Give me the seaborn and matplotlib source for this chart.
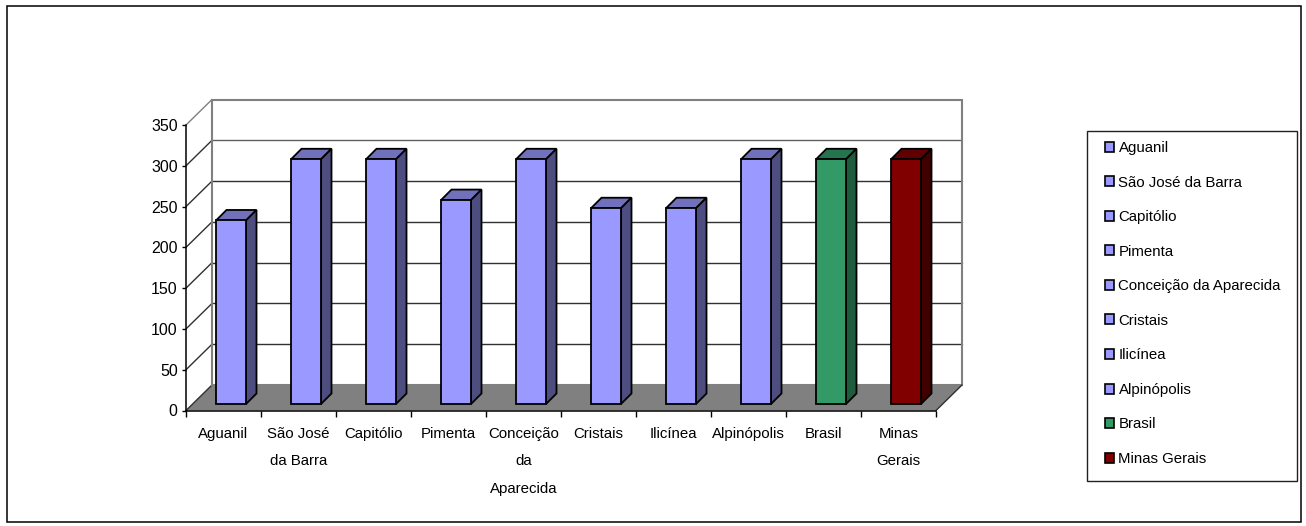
#!/usr/bin/env python3
"""Pseudo-3D column chart of municipalities, Brasil and Minas Gerais."""

import matplotlib
matplotlib.use("Agg")
import matplotlib.pyplot as plt
import pandas as pd
import seaborn as sns
from matplotlib.patches import Patch, Polygon, Rectangle

# Data
CATEGORIES = ["Aguanil", "São José da Barra", "Capitólio", "Pimenta",
              "Conceição da Aparecida", "Cristais", "Ilicínea", "Alpinópolis",
              "Brasil", "Minas Gerais"]
TICK_LABELS = ["Aguanil", "São José\nda Barra", "Capitólio", "Pimenta",
               "Conceição\nda\nAparecida", "Cristais", "Ilicínea", "Alpinópolis",
               "Brasil", "Minas\nGerais"]
VALUES = [225, 300, 300, 250, 300, 240, 240, 300, 300, 300]
Y_TICKS = [0, 50, 100, 150, 200, 250, 300, 350]

FRONT = ["#9999FF"] * 8 + ["#339966", "#800000"]
TOP = ["#7070BB"] * 8 + ["#267350", "#600000"]
SIDE = ["#4D4D80"] * 8 + ["#1F5C3D", "#400000"]

# Figure geometry, in pixels
W, H = 1306, 526
AX_LEFT, AX_RIGHT, AX_TOP, AX_BOTTOM = 186, 936, 125, 410.5
PX_X = (AX_RIGHT - AX_LEFT) / 10
PX_Y = (AX_BOTTOM - AX_TOP) / 350
FONT_SIZE = 10.8


def main():
    sns.set_theme(style="white")
    plt.rcParams["font.family"] = ["Liberation Sans", "DejaVu Sans"]

    fig = plt.figure(figsize=(W / 100, H / 100), dpi=100, facecolor="white")
    ax = fig.add_axes([AX_LEFT / W, 1 - AX_BOTTOM / H,
                       (AX_RIGHT - AX_LEFT) / W, (AX_BOTTOM - AX_TOP) / H])
    ax.patch.set_alpha(0)

    df = pd.DataFrame({"local": CATEGORIES, "valor": VALUES})
    sns.barplot(data=df, x="local", y="valor", hue="local", palette=FRONT,
                hue_order=CATEGORIES, dodge=False, width=0.4, saturation=1,
                edgecolor="black", linewidth=1.3, ax=ax, zorder=4)
    bars = list(ax.patches)
    ax.set_xlim(-0.5, 9.5)
    ax.set_ylim(0, 350)

    # Back wall, side wall and floor
    wall_dx, wall_dy = 26 / PX_X, 25.5 / PX_Y
    x0, x1 = -0.5, 9.5
    ax.add_patch(Polygon([(x0, 0), (x1, 0), (x1 + wall_dx, wall_dy), (x0 + wall_dx, wall_dy)],
                         closed=True, facecolor="#808080", edgecolor="none",
                         clip_on=False, zorder=1))
    for val in Y_TICKS[1:-1]:
        ax.plot([x0 + wall_dx, x1 + wall_dx], [val + wall_dy] * 2,
                color="#606060" if val == 300 else "#303030",
                lw=1, clip_on=False, zorder=1)
    for val in Y_TICKS:
        ax.plot([x0, x0 + wall_dx], [val, val + wall_dy],
                color="#303030" if val < 350 else "#808080", lw=1, clip_on=False, zorder=1)
    ax.add_patch(Rectangle((x0 + wall_dx, wall_dy), x1 - x0, 350,
                           facecolor="none", edgecolor="#808080", lw=1.5,
                           clip_on=False, zorder=1.5))
    ax.plot([x1, x1 + wall_dx], [0, wall_dy], color="#303030", lw=1, clip_on=False, zorder=2)

    # Columns: shift the faces onto the floor and add depth
    shift_x, shift_y = 7.5 / PX_X, 6.5 / PX_Y
    depth_x, depth_y = 10.5 / PX_X, 10.5 / PX_Y
    for i, bar in enumerate(bars):
        bar.set_x(bar.get_x() + shift_x)
        bar.set_y(shift_y)
        bar.set_clip_on(False)
        left, right = bar.get_x(), bar.get_x() + bar.get_width()
        bottom, top = bar.get_y(), bar.get_y() + bar.get_height()
        ax.add_patch(Polygon([(left, top), (right, top), (right + depth_x, top + depth_y),
                              (left + depth_x, top + depth_y)],
                             closed=True, facecolor=TOP[i], edgecolor="black", lw=1.3,
                             clip_on=False, zorder=3))
        ax.add_patch(Polygon([(right, bottom), (right + depth_x, bottom + depth_y),
                              (right + depth_x, top + depth_y), (right, top)],
                             closed=True, facecolor=SIDE[i], edgecolor="black", lw=1.3,
                             clip_on=False, zorder=3))

    # Axes
    for side in ["top", "right"]:
        ax.spines[side].set_visible(False)
    for side in ["left", "bottom"]:
        ax.spines[side].set_color("black")
        ax.spines[side].set_linewidth(1.1)
        ax.spines[side].set_zorder(5)
    ax.set_xlabel("")
    ax.set_ylabel("")
    ax.set_yticks(Y_TICKS)
    ax.tick_params(axis="y", left=True, length=3, width=1, color="black", pad=3,
                   labelsize=FONT_SIZE + 0.7, labelcolor="black")
    ax.set_xticks(range(10))
    ax.set_xticklabels(TICK_LABELS, linespacing=2.2)
    ax.set_xticks([x0 + i for i in range(11)], minor=True)
    ax.tick_params(axis="x", which="major", bottom=False, pad=6,
                   labelsize=FONT_SIZE, labelcolor="black")
    ax.tick_params(axis="x", which="minor", bottom=True, length=4.5, width=1, color="black")

    # Legend, with its box drawn separately
    handles = [Patch(facecolor=bar.get_facecolor(), edgecolor="black", linewidth=1.2) for bar in bars]
    fig.legend(handles, CATEGORIES, loc="upper left",
               bbox_to_anchor=(1087 / W, 1 - 123 / H), frameon=False,
               fontsize=FONT_SIZE, handlelength=0.6, handleheight=0.65,
               handletextpad=0.3, labelspacing=1.37, borderpad=1.2, borderaxespad=0,
               labelcolor="black")
    fig.add_artist(Rectangle((1087 / W, 1 - 480.5 / H), 210 / W, 349.5 / H,
                             transform=fig.transFigure, facecolor="none",
                             edgecolor="#202020", lw=1))

    # Outer border of the chart area
    fig.add_artist(Rectangle((6.5 / W, 1 - 521.5 / H), 1294 / W, 515.5 / H,
                             transform=fig.transFigure, facecolor="none",
                             edgecolor="black", lw=1.1))

    fig.savefig("out.png", dpi=100)


if __name__ == "__main__":
    main()
